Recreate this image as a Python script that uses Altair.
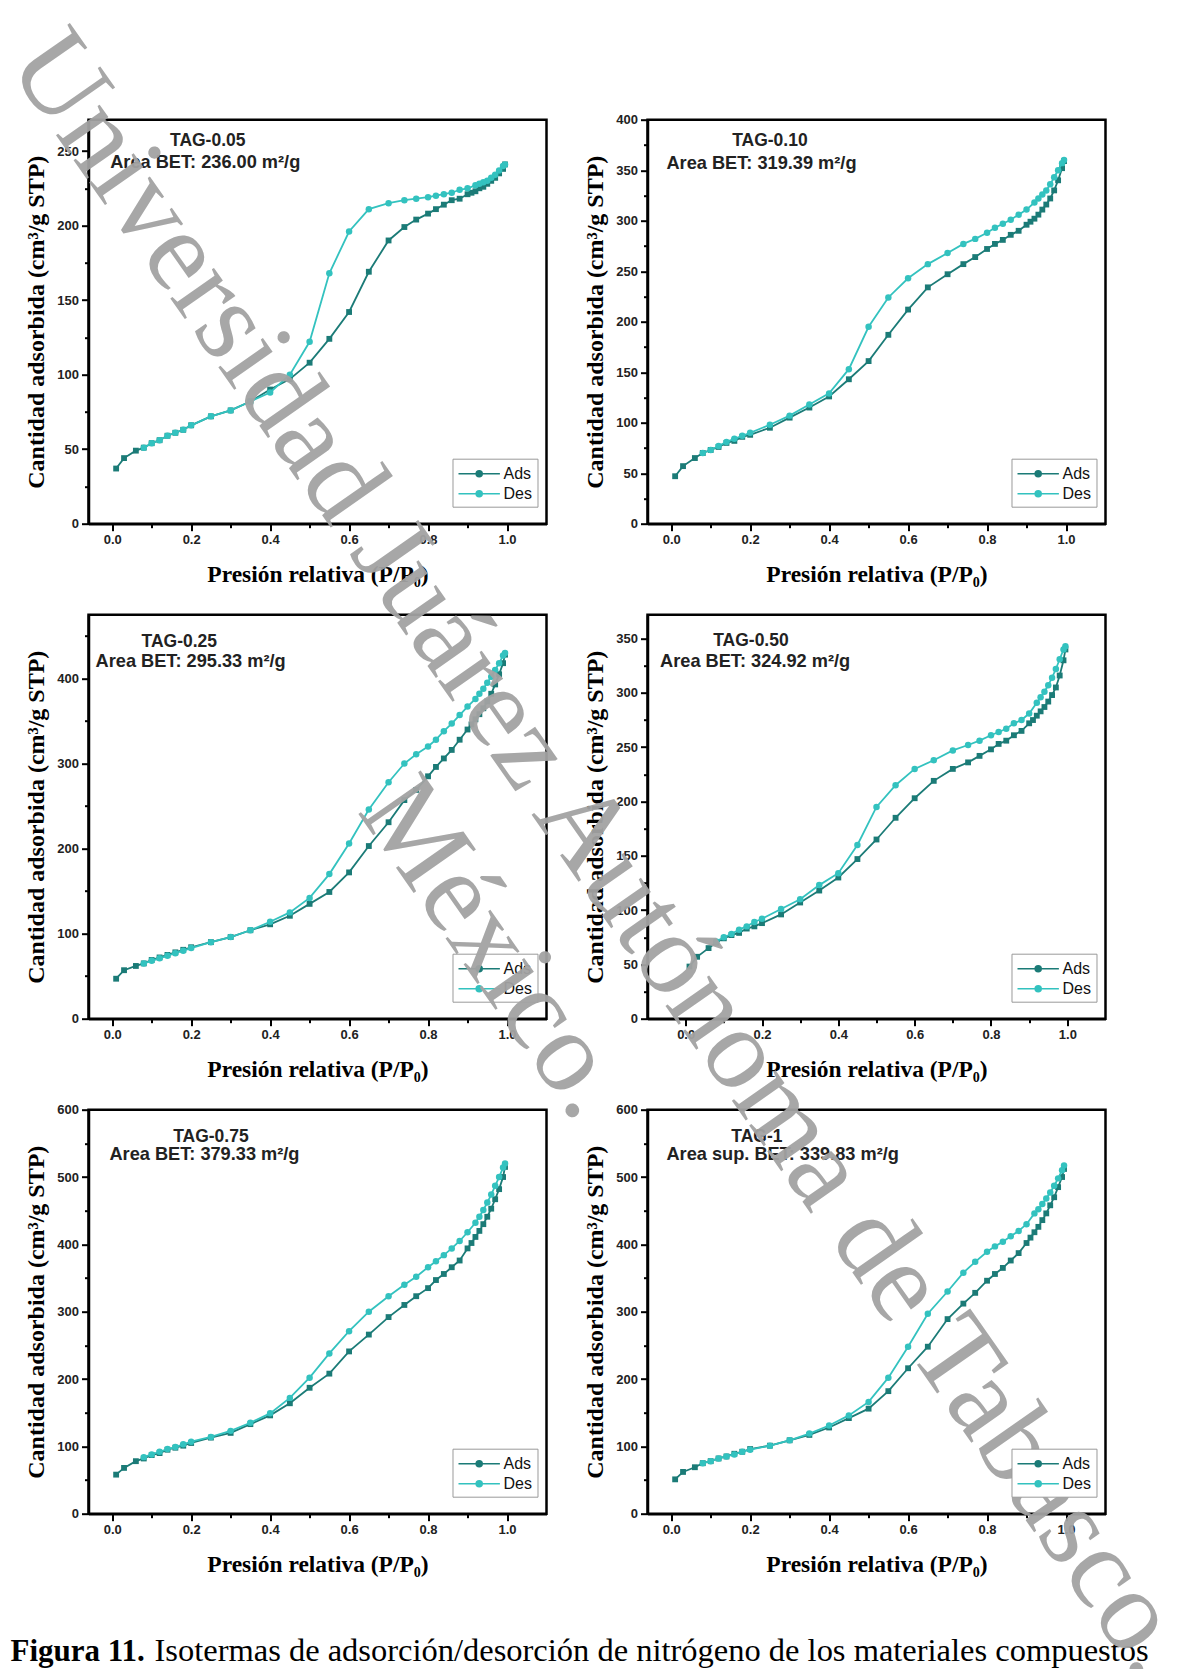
import altair as alt
import pandas as pd

# ---------------- data ----------------
ADS_P = [0.01, 0.03, 0.06, 0.08, 0.10, 0.12, 0.14, 0.16, 0.18, 0.20, 0.25, 0.30, 0.35, 0.40,
         0.45, 0.50, 0.55, 0.60, 0.65, 0.70, 0.74, 0.77, 0.80, 0.82, 0.84, 0.86, 0.88, 0.90,
         0.91, 0.92, 0.93, 0.94, 0.95, 0.96, 0.97, 0.98, 0.99, 0.995]
DES_P = [0.995, 0.99, 0.98, 0.97, 0.96, 0.95, 0.94, 0.93, 0.92, 0.90, 0.88, 0.86, 0.84, 0.82,
         0.80, 0.77, 0.74, 0.70, 0.65, 0.60, 0.55, 0.50, 0.45, 0.40, 0.35, 0.30, 0.25, 0.20,
         0.18, 0.16, 0.14, 0.12, 0.10, 0.08]

ADS_005 = [37, 44, 49, 51, 54, 56, 59, 61, 63, 66, 72, 76, 82, 90, 97, 108, 124, 142, 169, 190,
           199, 204, 208, 211, 214, 217, 218, 221, 222, 223, 225, 226, 228, 230, 232, 235, 238, 241]
DES_005 = [241, 240, 237, 234, 232, 230, 229, 228, 227, 225, 224, 222, 221, 220, 219, 218, 217,
           215, 211, 196, 168, 122, 100, 88, 82, 76, 72, 66, 63, 61, 59, 56, 54, 51]

ADS_010 = [47, 57, 65, 70, 73, 76, 80, 82, 86, 88, 95, 105, 115, 126, 143, 161, 187, 212, 234, 247,
           257, 264, 272, 277, 281, 286, 290, 296, 299, 302, 306, 311, 316, 322, 330, 340, 352, 359]
DES_010 = [360, 357, 350, 343, 336, 330, 326, 322, 318, 311, 306, 301, 297, 293, 288, 282, 277,
           268, 257, 243, 224, 195, 153, 129, 118, 107, 98, 90, 87, 84, 81, 77, 73, 70]

ADS_025 = [47, 57, 62, 65, 69, 72, 75, 78, 81, 84, 90, 96, 104, 111, 121, 135, 149, 172, 203, 231,
           257, 269, 285, 296, 306, 316, 328, 340, 346, 352, 358, 365, 373, 382, 393, 405, 418, 428]
DES_025 = [430, 427, 418, 410, 402, 395, 388, 382, 376, 367, 357, 347, 338, 328, 320, 311, 300,
           278, 246, 206, 170, 142, 125, 114, 104, 96, 90, 83, 80, 77, 74, 71, 68, 65]

ADS_050 = [48, 57, 65, 70, 74, 77, 79, 83, 85, 88, 96, 107, 118, 130, 147, 165, 185, 203, 219, 230,
           236, 242, 248, 253, 256, 261, 265, 272, 275, 279, 283, 287, 292, 298, 305, 316, 330, 340]
DES_050 = [343, 340, 331, 322, 314, 307, 301, 296, 291, 281, 275, 272, 267, 264, 261, 256, 252,
           247, 238, 230, 215, 195, 160, 134, 123, 110, 101, 92, 89, 85, 82, 78, 75, 71]

ADS_075 = [58, 68, 78, 82, 87, 90, 95, 98, 101, 105, 113, 120, 133, 146, 164, 187, 208, 241, 266, 292,
           310, 323, 335, 347, 356, 366, 376, 394, 402, 411, 420, 430, 441, 453, 467, 482, 500, 515]
DES_075 = [520, 514, 500, 487, 474, 462, 451, 441, 432, 418, 405, 394, 384, 375, 366, 352, 340,
           323, 300, 271, 238, 202, 172, 149, 135, 123, 114, 107, 103, 99, 96, 92, 88, 84]

ADS_1 = [51, 62, 69, 75, 78, 82, 85, 89, 92, 96, 101, 109, 117, 128, 142, 156, 182, 216, 248, 289,
         312, 328, 346, 356, 365, 376, 387, 402, 410, 418, 426, 436, 446, 458, 470, 485, 500, 512]
DES_1 = [517, 510, 498, 487, 477, 468, 460, 452, 446, 430, 420, 412, 404, 397, 389, 374, 358,
         330, 297, 248, 202, 166, 146, 131, 119, 109, 101, 95, 92, 88, 85, 82, 78, 75]

SAMPLES = ["TAG-0.05", "TAG-0.10", "TAG-0.25", "TAG-0.50", "TAG-0.75", "TAG-1"]
AREAS = ["Area BET: 236.00 m²/g", "Area BET: 319.39 m²/g", "Area BET: 295.33 m²/g",
         "Area BET: 324.92 m²/g", "Area BET: 379.33 m²/g", "Area sup. BET: 339.83 m²/g"]
ADS = [ADS_005, ADS_010, ADS_025, ADS_050, ADS_075, ADS_1]
DES = [DES_005, DES_010, DES_025, DES_050, DES_075, DES_1]

Y_MAX = [271, 400, 475, 372, 600, 600]
Y_MAJOR = [50, 50, 100, 50, 100, 100]
X_MIN = [-0.06, -0.06, -0.06, -0.1, -0.06, -0.06]
X_MAX = 1.1
X_TICKS = [0.0, 0.1, 0.2, 0.3, 0.4, 0.5, 0.6, 0.7, 0.8, 0.9, 1.0]
TAG_POS = [(0.242, 257), (0.25, 379), (0.17, 443), (0.171, 348), (0.25, 560), (0.217, 560)]
AREA_POS = [(-0.005, 242), (-0.012, 356), (-0.042, 419), (-0.067, 328), (-0.007, 532), (-0.012, 532)]

SERIES = ["Ads", "Des"]
COLORS = ["#1b7b77", "#33c2bf"]
SHAPES = ["square", "circle"]
MARK_SIZES = [34, 42]

X_TITLE = "Presión relativa (P/P₀)"
Y_TITLE = "Cantidad adsorbida (cm³/g STP)"
CAPTION_BOLD = "Figura 11."
CAPTION_TEXT = "Isotermas de adsorción/desorción de nitrógeno de los materiales compuestos"
WATERMARK = ["Universidad Juárez Autónoma de Tabasco.", "México."]

W, H = 458, 404
# legend symbol: a line with a dot in its middle (unit radius = 9 px for size 324),
# drawn to the right of the symbol origin; labels are pushed past it with labelOffset
LEG_PATH = ("M-1,0L3.6,0"
            "M0.97,0A0.33,0.33,0,1,0,1.63,0A0.33,0.33,0,1,0,0.97,0"
            "M1.13,0A0.17,0.17,0,1,0,1.47,0A0.17,0.17,0,1,0,1.13,0"
            "M1.25,0A0.05,0.05,0,1,0,1.35,0A0.05,0.05,0,1,0,1.25,0")


def make_panel(i, extra=()):
    rows = [{"P": p, "V": v, "Serie": "Ads"} for p, v in zip(ADS_P, ADS[i])]
    rows += [{"P": p, "V": v, "Serie": "Des"} for p, v in zip(DES_P, DES[i])]
    df = pd.DataFrame(rows)

    major = Y_MAJOR[i]
    minor = major / 2
    yvals = [k * minor for k in range(int(Y_MAX[i] // minor) + 1)]

    x = alt.X("P:Q", title=X_TITLE,
              scale=alt.Scale(domain=[X_MIN[i], X_MAX], nice=False, zero=False),
              axis=alt.Axis(values=X_TICKS,
                            labelExpr="round(datum.value*10) % 2 === 0 ? format(datum.value, '.1f') : ''",
                            tickSize={"condition": {"test": "round(datum.value*10) % 2 === 0", "value": 7}, "value": 4},
                            titlePadding=16, titleFontSize=23.5))
    y = alt.Y("V:Q", title=Y_TITLE,
              scale=alt.Scale(domain=[0, Y_MAX[i]], nice=False),
              axis=alt.Axis(values=yvals,
                            labelExpr=f"datum.value % {major} === 0 ? datum.label : ''",
                            tickSize={"condition": {"test": f"datum.value % {major} === 0", "value": 7}, "value": 4},
                            titlePadding=8, titleFontSize=24))
    color = alt.Color("Serie:N", scale=alt.Scale(domain=SERIES, range=COLORS),
                      legend=alt.Legend(title=None, symbolType=LEG_PATH, symbolSize=324,
                                        symbolStrokeWidth=1.6, orient="none",
                                        legendX=364, legendY=339))

    base = alt.Chart(df).encode(x=x, y=y, color=color)
    layers = []
    for s, shp, sz in zip(SERIES, SHAPES, MARK_SIZES):
        sub = base.transform_filter(alt.datum.Serie == s)
        layers.append(sub.mark_line(strokeWidth=1.8))
        layers.append(sub.mark_point(filled=True, shape=shp, size=sz, opacity=1))

    tag_df = pd.DataFrame({"P": [TAG_POS[i][0]], "V": [TAG_POS[i][1]], "t": [SAMPLES[i]]})
    area_df = pd.DataFrame({"P": [AREA_POS[i][0]], "V": [AREA_POS[i][1]], "t": [AREAS[i]]})
    layers.append(alt.Chart(tag_df).mark_text(font="Liberation Sans", fontWeight="bold", fontSize=17.5,
                                              color="#222222", align="center", baseline="middle")
                  .encode(x=x, y=y, text="t:N"))
    layers.append(alt.Chart(area_df).mark_text(font="Liberation Sans", fontWeight="bold", fontSize=18.2,
                                               color="#222222", align="left", baseline="middle")
                  .encode(x=x, y=y, text="t:N"))
    layers.extend(extra)
    return alt.layer(*layers).properties(width=W, height=H)


# caption and watermark are drawn from the last panel's group (positions relative to its plot origin)
cap1 = alt.Chart(pd.DataFrame({"t": [CAPTION_BOLD]})).mark_text(
    font="Liberation Serif", fontWeight="bold", fontSize=31, color="black", align="left",
    baseline="alphabetic").encode(x=alt.value(-637), y=alt.value(551), text="t:N")
cap2 = alt.Chart(pd.DataFrame({"t": [CAPTION_TEXT]})).mark_text(
    font="Liberation Serif", fontSize=32.5, color="black", align="left",
    baseline="alphabetic").encode(x=alt.value(-493), y=alt.value(551), text="t:N")
wm1 = alt.Chart(pd.DataFrame({"t": [WATERMARK[0]]})).mark_text(
    font="Liberation Serif", fontSize=116, color="#a3a3a3", opacity=0.95, angle=55,
    align="center", baseline="middle").encode(x=alt.value(-45.5), y=alt.value(-255.6), text="t:N")
wm2 = alt.Chart(pd.DataFrame({"t": [WATERMARK[1]]})).mark_text(
    font="Liberation Serif", fontSize=116, color="#a3a3a3", opacity=0.95, angle=55,
    align="center", baseline="middle").encode(x=alt.value(-152.5), y=alt.value(-161.6), text="t:N")

panels = [make_panel(i) for i in range(5)] + [make_panel(5, extra=[cap1, cap2, wm1, wm2])]

chart = alt.concat(*panels, columns=2, spacing={"row": 91, "column": 101}, bounds="flush")
chart = chart.resolve_scale(color="independent").resolve_legend(color="independent")
chart = chart.properties(padding={"left": -16.5, "top": 5.7, "right": -56, "bottom": -32.5},
                         background="white")
chart = chart.configure_view(stroke="black", strokeWidth=2.5).configure_axis(
    domainColor="black", domainWidth=2.5, tickColor="black", tickWidth=2,
    labelFont="Liberation Sans", labelFontWeight="bold", labelFontSize=13, labelColor="#222222",
    labelPadding=3, titleFont="Liberation Serif", titleFontWeight="bold",
    titleColor="black", grid=False
).configure_legend(
    padding=5, strokeColor="#9a9a9a", fillColor="white",
    labelFont="Liberation Sans", labelFontSize=16, labelColor="#111111", labelOffset=26,
    rowPadding=2
)

chart.save("out.html", embed_options={"renderer": "svg", "actions": False})
